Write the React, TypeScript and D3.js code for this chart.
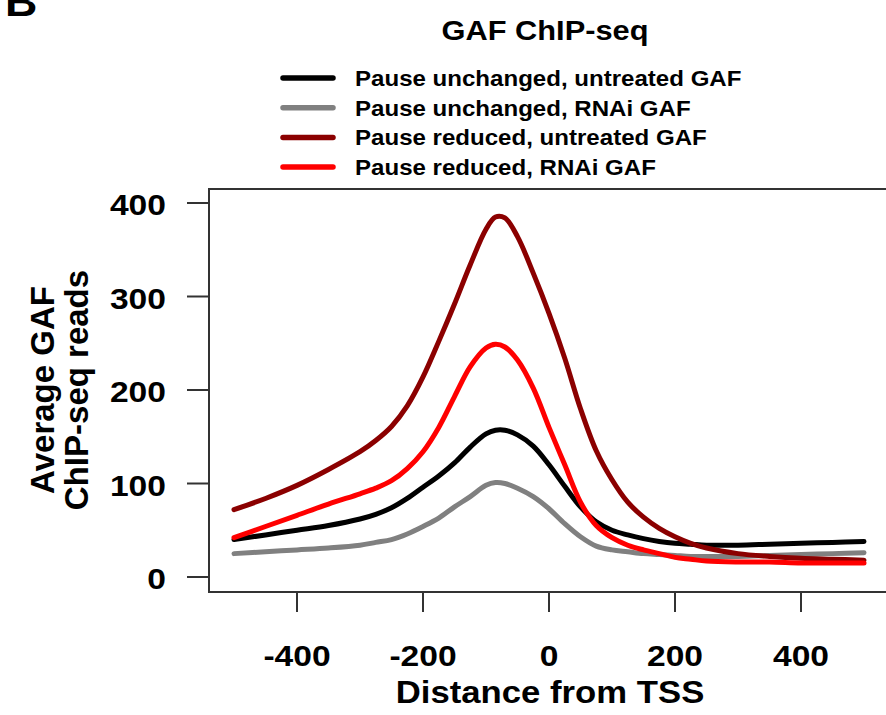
import React from "react";
import { scaleLinear, line, curveCatmullRom } from "d3";

// distance from TSS (bp)
const distance = [-500, -450, -400, -350, -300, -275, -250, -225, -200, -175, -150, -125, -100, -85, -70, -50, -25, 0, 25, 50, 75, 100, 125, 150, 175, 200, 225, 250, 300, 350, 400, 450, 500];

// average GAF ChIP-seq reads per group
const unchangedUntreated = [40, 45, 50, 55, 62, 67, 74, 84, 96, 108, 122, 139, 153, 157, 157, 152, 140, 120, 97, 75, 59, 50, 45, 41, 38, 36, 35, 34, 34, 35, 36, 37, 38];
const unchangedRNAi = [25, 27, 29, 31, 34, 37, 40, 46, 54, 63, 75, 86, 98, 101, 100, 95, 86, 73, 57, 43, 33, 29, 27, 25, 24, 23, 22, 22, 22, 23, 24, 25, 26];
const reducedUntreated = [72, 84, 98, 115, 134, 146, 161, 183, 214, 252, 292, 334, 372, 385, 384, 364, 325, 282, 234, 180, 135, 104, 80, 64, 52, 43, 36, 31, 25, 22, 20, 19, 18];
const reducedRNAi = [42, 54, 66, 78, 89, 95, 103, 116, 134, 160, 193, 225, 245, 249, 246, 232, 202, 160, 120, 80, 55, 42, 34, 29, 25, 21, 19, 17, 16, 16, 15, 15, 15];

const seriesNames = [
  "Pause unchanged, untreated GAF",
  "Pause unchanged, RNAi GAF",
  "Pause reduced, untreated GAF",
  "Pause reduced, RNAi GAF",
];
const seriesColors = ["#000000", "#808080", "#8b0000", "#ff0000"];
const seriesValues = [unchangedUntreated, unchangedRNAi, reducedUntreated, reducedRNAi];

const xTicks = [-400, -200, 0, 200, 400];
const yTicks = [0, 100, 200, 300, 400];

const FONT = "'Liberation Sans', Arial, Helvetica, sans-serif";
const SX = 1.12; // figure text looks horizontally stretched

export default function App() {
  const width = 886;
  const height = 715;

  const x = scaleLinear().domain([-500, 500]).range([234, 864]);
  const y = scaleLinear().domain([0, 400]).range([577, 203]);

  const path = line<number>()
    .x((d, i) => x(distance[i]))
    .y(d => y(d))
    .curve(curveCatmullRom.alpha(0.5));

  const box = { left: 209, top: 189, bottom: 592 };

  return (
    <svg width={width} height={height} style={{ position: "absolute", left: 0, top: 0, background: "#fff" }}
      fontFamily={FONT} fontWeight="bold">
      {/* panel letter, cut at the top like the source figure */}
      <text transform={`translate(5,16) scale(${SX},1)`} fontSize={40} fill="#000">B</text>

      {/* title */}
      <text transform={`translate(545,40) scale(${SX},1)`} textAnchor="middle" fontSize={27.5} fill="#000">GAF ChIP-seq</text>

      {/* legend */}
      {seriesNames.map((name, i) => (
        <g key={name}>
          <line x1={283} x2={333} y1={78 + i * 29.7} y2={78 + i * 29.7} stroke={seriesColors[i]} strokeWidth={5.5} strokeLinecap="round" />
          <text transform={`translate(355,${86 + i * 29.7}) scale(${SX},1)`} fontSize={21.5} fill="#000">{name}</text>
        </g>
      ))}

      {/* plot frame (right side runs off the picture) */}
      <path d={`M${width + 10},${box.top}H${box.left}V${box.bottom}H${width + 10}`} fill="none" stroke="#333" strokeWidth={2} />

      {/* y axis */}
      {yTicks.map(t => (
        <g key={t}>
          <line x1={187} x2={box.left} y1={y(t)} y2={y(t)} stroke="#333" strokeWidth={2} />
          <text transform={`translate(166,${y(t) + 12}) scale(${SX},1)`} textAnchor="end" fontSize={30} fill="#000">{t}</text>
        </g>
      ))}

      {/* x axis */}
      {xTicks.map(t => (
        <g key={t}>
          <line x1={x(t)} x2={x(t)} y1={box.bottom} y2={612} stroke="#333" strokeWidth={2} />
          <text transform={`translate(${x(t)},666) scale(${SX},1)`} textAnchor="middle" fontSize={30} fill="#000">{t}</text>
        </g>
      ))}

      <text transform={`translate(550,703) scale(${SX},1)`} textAnchor="middle" fontSize={31} fill="#000">Distance from TSS</text>

      <text transform="translate(54,390) rotate(-90)" textAnchor="middle" fontSize={33} fill="#000">Average GAF</text>
      <text transform="translate(88,390) rotate(-90)" textAnchor="middle" fontSize={33} fill="#000">ChIP-seq reads</text>

      {/* series lines */}
      {seriesValues.map((vals, i) => (
        <path key={seriesNames[i]} d={path(vals) || ""} fill="none" stroke={seriesColors[i]} strokeWidth={5} strokeLinejoin="round" strokeLinecap="round" />
      ))}
    </svg>
  );
}
